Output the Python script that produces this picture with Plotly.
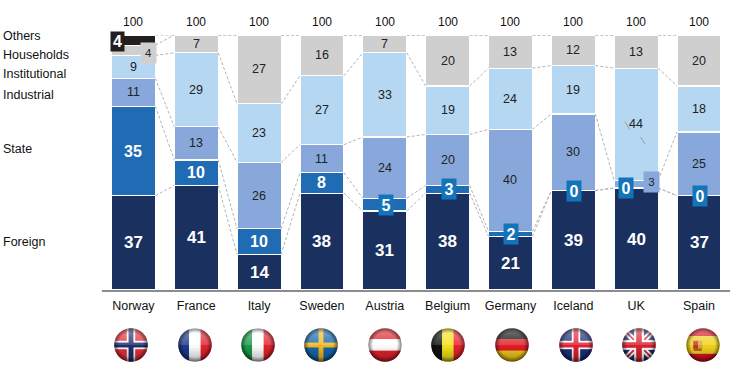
import base64
import plotly.graph_objects as go

countries = ["Norway", "France", "Italy", "Sweden", "Austria", "Belgium", "Germany", "Iceland", "UK", "Spain"]
foreign = [37, 41, 14, 38, 31, 38, 21, 39, 40, 37]
state = [35, 10, 10, 8, 5, 3, 2, 0, 0, 0]
industrial = [11, 13, 26, 11, 24, 20, 40, 30, 3, 25]
institutional = [9, 29, 23, 27, 33, 19, 24, 19, 44, 18]
households = [4, 7, 27, 16, 7, 20, 13, 12, 13, 20]
others = [4, 0, 0, 0, 0, 0, 0, 0, 0, 0]
totals = [100] * 10

series = [
    ("Foreign", foreign, "#1a3160"),
    ("State", state, "#1f6cb5"),
    ("Industrial", industrial, "#88a8db"),
    ("Institutional", institutional, "#b6d7f2"),
    ("Households", households, "#cfcfcf"),
    ("Others", others, "#231f20"),
]

W, H = 730, 378
L, R, T, B = 102, 0, 35, 88
FONT = "Liberation Sans, Arial, sans-serif"
BW = 0.70
fig = go.Figure()

for name, vals, col in series:
    fig.add_trace(go.Bar(x=list(range(10)), y=vals, name=name, width=BW, showlegend=False,
                         marker=dict(color=col, line=dict(color="white", width=1.2)), hoverinfo="skip"))

# dashed connectors between matching stack boundaries
cum = [0] * 10
for name, vals, col in series:
    cum = [c + v for c, v in zip(cum, vals)]
    xs, ys = [], []
    for i in range(9):
        xs += [i + BW / 2, i + 1 - BW / 2, None]
        ys += [cum[i], cum[i + 1], None]
    fig.add_trace(go.Scatter(x=xs, y=ys, mode="lines", showlegend=False, hoverinfo="skip",
                             line=dict(color="#b4b4b4", width=1, dash="3px,2px")))

# small stray leader inside the UK bar, interrupted by its label
fig.add_trace(go.Scatter(x=[7.82, 7.90, None, 8.07, 8.14], y=[66, 63, None, 60, 57.3], mode="lines",
                         showlegend=False, hoverinfo="skip", line=dict(color="#9a9a9a", width=1)))

ann = []
def label(x, y, text, color, size=12.5, bold=False, bg=None, xshift=0, yshift=0, w=None, h=None):
    d = dict(x=x, y=y, xref="x", yref="y", text=f"<b>{text}</b>" if bold else str(text), showarrow=False,
             font=dict(family=FONT, size=size, color=color), xshift=xshift, yshift=yshift, yanchor="middle")
    if bg:
        d.update(bgcolor=bg, width=w, height=h, borderpad=0)
    ann.append(d)

cum = [0] * 10
for name, vals, col in series:
    for i, v in enumerate(vals):
        mid = cum[i] + v / 2
        if name == "Foreign":
            label(i, mid, v, "white", 17, True)
        elif name == "State":
            if v <= 5:
                sx = -10 if countries[i] == "UK" else 1
                label(i, mid, v, "white", 16, True, bg="#1474bb", w=14, h=20, xshift=sx)
            else:
                label(i, mid, v, "white", 16, True)
        elif name == "Others":
            if v:
                label(i, mid, v, "white", 16, True, bg="#231f20", w=13, h=19, xshift=-15.5, yshift=-1)
        elif v <= 4:
            bg = "#cfcfcf" if name == "Households" else "#88a8db"
            label(i, mid, v, "#222222", 11.5, bg=bg, w=15, h=20, xshift=15, yshift=-3 if name == "Households" else 2)
        else:
            label(i, mid, v, "#222222", 12.5)
    cum = [c + v for c, v in zip(cum, vals)]

for i, t in enumerate(totals):
    ann.append(dict(x=i, y=t, xref="x", yref="y", text=str(t), showarrow=False, yshift=13, yanchor="middle",
                    font=dict(family=FONT, size=12, color="#111111")))

row_labels = [("Others", 36), ("Households", 55), ("Institutional", 74), ("Industrial", 95), ("State", 149), ("Foreign", 242)]
for t, py in row_labels:
    ann.append(dict(x=(1 - L) / (W - L - R), y=(H - B - py) / (H - T - B), xref="paper", yref="paper", text=t,
                    showarrow=False, xanchor="left", yanchor="middle", font=dict(family=FONT, size=12.5, color="#111111")))

# ---- spherical flags ----
def flag_svg(body):
    return ('<svg xmlns="http://www.w3.org/2000/svg" width="100" height="100" viewBox="0 0 100 100">'
            '<defs><clipPath id="c"><circle cx="50" cy="50" r="48"/></clipPath>'
            '<radialGradient id="d" cx="50%" cy="50%" r="50%"><stop offset="0.72" stop-color="#000" stop-opacity="0"/>'
            '<stop offset="1" stop-color="#000" stop-opacity="0.5"/></radialGradient>'
            '<linearGradient id="s" x1="0" y1="0" x2="0" y2="1"><stop offset="0" stop-color="#fff" stop-opacity="0.45"/>'
            '<stop offset="0.5" stop-color="#fff" stop-opacity="0.15"/><stop offset="0.52" stop-color="#000" stop-opacity="0"/>'
            '<stop offset="1" stop-color="#000" stop-opacity="0.3"/></linearGradient></defs>'
            f'<g clip-path="url(#c)">{body}<rect width="100" height="100" fill="url(#s)"/>'
            '<circle cx="50" cy="50" r="48" fill="url(#d)"/></g></svg>')

def rect(x, y, w, h, c):
    return f'<rect x="{x}" y="{y}" width="{w}" height="{h}" fill="{c}"/>'

def nordic(bg, outer, inner):
    b = rect(0, 0, 100, 100, bg)
    if outer:
        b += rect(38, 0, 24, 100, outer) + rect(0, 38, 100, 24, outer)
    b += rect(43, 0, 14, 100, inner) + rect(0, 43, 100, 14, inner)
    return b

def vert(a, b, c):
    return rect(0, 0, 34, 100, a) + rect(33, 0, 34, 100, b) + rect(66, 0, 34, 100, c)

def horiz(a, b, c):
    return rect(0, 0, 100, 34, a) + rect(0, 33, 100, 34, b) + rect(0, 66, 100, 34, c)

uk = (rect(0, 0, 100, 100, "#1d2f7a")
      + '<path d="M0 0L100 100M100 0L0 100" stroke="#fff" stroke-width="16"/>'
      + '<path d="M0 0L100 100M100 0L0 100" stroke="#d8222f" stroke-width="5"/>'
      + rect(36, 0, 28, 100, "#fff") + rect(0, 36, 100, 28, "#fff")
      + rect(42, 0, 16, 100, "#d8222f") + rect(0, 42, 100, 16, "#d8222f"))
spain = (rect(0, 0, 100, 25, "#d9121f") + rect(0, 25, 100, 50, "#f2d21b") + rect(0, 75, 100, 25, "#d9121f")
         + rect(22, 38, 14, 24, "#c0392b") + rect(36, 38, 12, 24, "#d9a441") + rect(24, 60, 22, 7, "#b5651d"))

flags = [
    nordic("#e8303a", "#fff", "#1d2f6f"), vert("#1b3a8f", "#fff", "#e2232e"), vert("#1a9a4a", "#fff", "#e2232e"),
    nordic("#1667ad", None, "#f5b81e"), horiz("#e2232e", "#fff", "#e2232e"), vert("#111111", "#f3e21b", "#e8222d"),
    horiz("#111111", "#e01e26", "#f2c81a"), nordic("#1d2f7a", "#fff", "#e0202e"), uk, spain,
]
flag_x = [131, 195, 258, 321, 385, 448, 512, 576, 639, 703]
flag_y, flag_r = 345, 17.5
images = []
for fx, svg in zip(flag_x, flags):
    uri = "data:image/svg+xml;base64," + base64.b64encode(flag_svg(svg).encode()).decode()
    images.append(dict(source=uri, xref="paper", yref="paper", x=(fx - L) / (W - L - R),
                       y=(H - B - flag_y) / (H - T - B), sizex=2 * flag_r / (W - L - R),
                       sizey=2 * flag_r / (H - T - B), xanchor="center", yanchor="middle",
                       sizing="stretch", layer="above"))

fig.update_layout(
    width=W, height=H, margin=dict(l=L, r=R, t=T, b=B, pad=0), paper_bgcolor="white", plot_bgcolor="white",
    barmode="stack", annotations=ann, images=images,
    font=dict(family=FONT, size=12, color="#111111"),
    xaxis=dict(range=[-0.5, 9.493], tickmode="array", tickvals=list(range(10)), ticktext=countries,
               showgrid=False, zeroline=False, showline=True, linecolor="#8c8c8c", linewidth=1.5,
               ticks="outside", ticklen=3, tickcolor="white", tickfont=dict(family=FONT, size=12.5, color="#111111")),
    yaxis=dict(range=[0, 100], visible=False, fixedrange=True),
)
fig.write_html("out.html", config=dict(displayModeBar=False),
               post_script="document.body.style.margin='0';document.documentElement.style.overflow='hidden';")
